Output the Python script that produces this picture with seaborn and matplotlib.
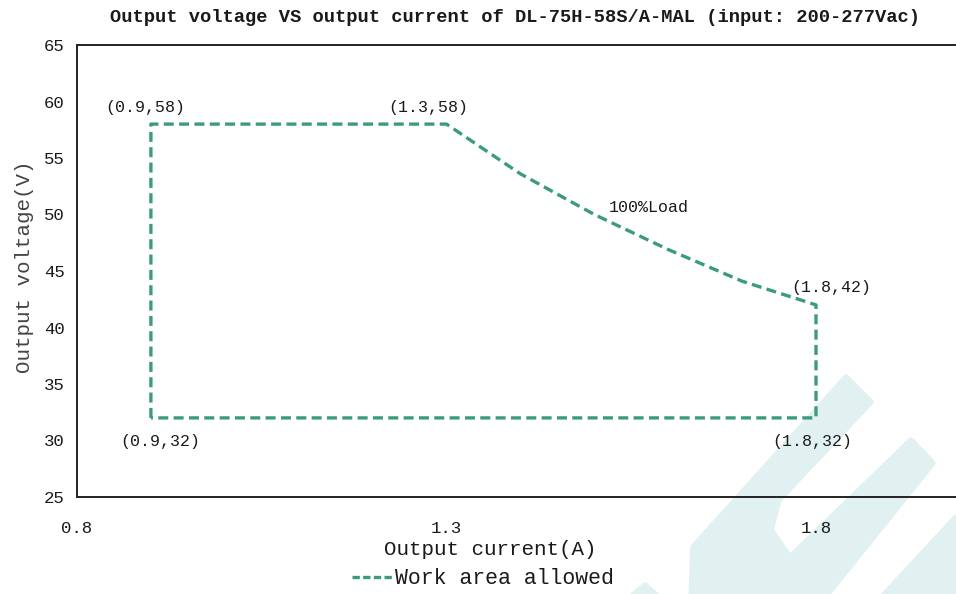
import seaborn as sns
import matplotlib.pyplot as plt
import pandas as pd
from matplotlib.patches import Polygon

# outline of the allowed work area (current A, voltage V)
currentList = [0.9, 0.9, 1.3, 1.4, 1.5, 1.6, 1.7, 1.8, 1.8, 0.9]
voltageList = [32, 58, 58, 53.6, 50.0, 46.9, 44.1, 42, 32, 32]

labelText = ['(0.9,58)', '(1.3,58)', '(1.8,42)', '(0.9,32)', '(1.8,32)']
labelX = [0.9, 1.3, 1.8, 0.9, 1.8]
labelY = [58, 58, 42, 32, 32]
# nudges so the labels sit beside their corners
labelDx = [-0.008, -0.025, 0.02, 0.013, -0.005]
labelDy = [1.5, 1.5, 1.5, -2.1, -2.1]

xTicks = [0.8, 1.3, 1.8]
yTicks = [25, 30, 35, 40, 45, 50, 55, 60, 65]

lineColor = '#3a9c7c'
textColor = '#1a1a1a'

sns.set_style('white')
plt.rcParams['font.family'] = ['Liberation Mono', 'DejaVu Sans Mono']

W, H = 956, 594
fig = plt.figure(figsize=(W / 100, H / 100), dpi=100)
ax = fig.add_axes([77 / W, 1 - 497 / H, (W - 77) / W, (497 - 45) / H])
ax.patch.set_alpha(0)

# faint logo watermark behind the chart
def px(points):
    return [(x / W, 1 - y / H) for x, y in points]

wmColor = '#e1f1f1'
for shape in [
    [(846, 377), (871, 402), (779, 500), (771, 530), (790, 557), (911, 440),
     (933, 463), (823, 600), (691, 600), (693, 547)],
    [(956, 517), (879, 600), (960, 600)],
    [(627, 600), (645, 585), (662, 600)],
]:
    fig.add_artist(Polygon(px(shape), closed=True, transform=fig.transFigure,
                           facecolor=wmColor, edgecolor=wmColor, lw=4,
                           joinstyle='round', zorder=-5))

df = pd.DataFrame({'current': currentList, 'voltage': voltageList,
                   'series': ['Work area allowed'] * len(currentList)})
sns.lineplot(data=df, x='current', y='voltage', hue='series', sort=False,
             estimator=None, palette=[lineColor], ax=ax, lw=2.4)
line = ax.lines[0]
line.set_linestyle((0, (3.0, 1.6)))

for t, x, y, dx, dy in zip(labelText, labelX, labelY, labelDx, labelDy):
    ax.text(x + dx, y + dy, t, ha='center', va='center', fontsize=12, color=textColor)
ax.text(1.574, 50.6, '100%Load', ha='center', va='center', fontsize=12, color=textColor)

ax.set_xlim(0.8, 0.8 + (W - 77) / 739)
ax.set_ylim(25, 65)
ax.set_xticks(xTicks)
ax.set_xticklabels(['0.8', '1.3', '1.8'])
ax.set_yticks(yTicks)
ax.tick_params(length=0, labelsize=12.5, colors=textColor)
ax.tick_params(axis='x', pad=17)
ax.tick_params(axis='y', pad=9)

for side in ['left', 'bottom', 'top']:
    ax.spines[side].set_color('#222222')
    ax.spines[side].set_linewidth(1.4)
ax.spines['right'].set_visible(False)

ax.set_xlabel('Output current(A)', fontsize=15, color=textColor)
ax.set_ylabel('Output voltage(V)', fontsize=15, color='#444444')
ax.xaxis.set_label_coords((490 - 77) / (W - 77), -(540 - 497) / (497 - 45))
ax.yaxis.set_label_coords(-(77 - 34) / (W - 77), 0.51)

fig.text(515 / W, 1 - 18 / H,
         'Output voltage VS output current of DL-75H-58S/A-MAL (input: 200-277Vac)',
         ha='center', va='center', fontsize=13.5, fontweight='bold', color=textColor)

ax.get_legend().remove()
handles, labels = ax.get_legend_handles_labels()
leg = fig.legend(handles, labels, loc='center', bbox_to_anchor=(483 / W, 1 - 579 / H),
                 frameon=False, fontsize=15.5, handlelength=1.9, handletextpad=0.1,
                 borderpad=0, labelcolor=textColor)
leg.get_lines()[0].set_linestyle((0, (2.2, 1.0)))

fig.savefig('out.png', dpi=100)
